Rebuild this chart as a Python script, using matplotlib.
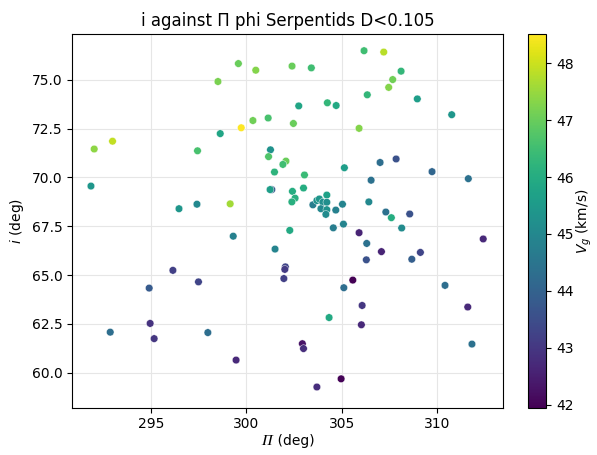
import matplotlib.pyplot as plt

# perihelion longitude, inclination and geocentric velocity per meteor
pi_deg = [292.03, 292.99, 297.44, 291.86, 296.47, 297.41, 299.58, 300.49, 302.39, 303.40,
          298.51, 302.74, 304.24, 304.70, 300.34, 301.14, 302.46, 299.73, 298.63, 305.90,
          301.26, 301.16, 302.07, 301.91, 301.47, 303.04, 305.13, 301.33, 301.24, 302.41,
          302.99, 302.55, 302.38, 303.48, 303.69, 303.82, 304.00, 304.21, 304.21, 303.90,
          304.21, 304.16, 304.68, 305.03, 305.08, 304.55, 306.16, 307.19, 308.10, 307.66,
          307.45, 306.33, 308.95, 310.75, 307.00, 307.84, 309.72, 311.62, 306.53, 306.41,
          307.30, 307.59, 308.55, 308.13, 299.31, 302.27, 301.50, 302.04, 302.01, 301.96,
          305.90, 305.57, 305.10, 304.33, 302.93, 302.99, 299.46, 304.96, 303.69, 306.30,
          307.07, 306.28, 308.66, 309.11, 312.40, 310.40, 311.59, 311.81, 306.06, 306.02,
          296.15, 294.91, 297.49, 294.96, 295.17, 292.87, 297.98, 299.15]
incl = [71.46, 71.86, 71.37, 69.56, 68.40, 68.63, 75.84, 75.50, 75.71, 75.62,
        74.92, 73.67, 73.83, 73.69, 72.92, 73.05, 72.77, 72.55, 72.25, 72.52,
        71.42, 71.07, 70.84, 70.67, 70.28, 70.13, 70.50, 69.38, 69.38, 69.29,
        69.46, 68.94, 68.75, 68.60, 68.82, 68.90, 68.73, 69.10, 68.73, 68.40,
        68.35, 68.11, 68.33, 68.63, 67.61, 67.42, 76.50, 76.43, 75.45, 75.02,
        74.62, 74.24, 74.03, 73.22, 70.77, 70.95, 70.30, 69.94, 69.86, 68.75,
        68.23, 67.94, 68.13, 67.41, 66.99, 67.29, 66.33, 65.42, 65.29, 64.82,
        67.17, 64.74, 64.35, 62.82, 61.48, 61.23, 60.64, 59.68, 59.26, 66.62,
        66.20, 65.78, 65.81, 66.16, 66.85, 64.47, 63.36, 61.46, 63.44, 62.45,
        65.24, 64.33, 64.65, 62.52, 61.74, 62.07, 62.05, 68.65]
vg = [47.4, 47.9, 46.6, 45.4, 45.4, 45.0, 47.0, 47.3, 47.0, 46.5,
      47.2, 45.8, 46.3, 45.9, 47.1, 46.6, 47.0, 48.51, 45.8, 47.3,
      45.3, 46.7, 47.0, 46.5, 46.2, 46.4, 45.6, 43.8, 45.6, 46.0,
      46.0, 46.1, 46.1, 44.7, 45.3, 45.4, 45.2, 45.7, 45.2, 45.0,
      45.3, 45.1, 44.8, 44.9, 44.9, 44.7, 46.5, 47.8, 46.3, 47.1,
      47.3, 46.3, 45.6, 45.4, 44.3, 43.6, 44.1, 44.4, 44.4, 45.0,
      44.4, 46.0, 43.6, 45.1, 44.8, 45.9, 44.9, 43.3, 43.1, 43.2,
      42.6, 41.95, 44.3, 45.9, 42.3, 42.8, 42.7, 42.0, 42.8, 44.4,
      42.6, 43.6, 43.9, 43.3, 42.7, 44.3, 42.7, 44.4, 43.0, 42.7,
      43.2, 43.8, 43.3, 42.9, 43.0, 44.3, 44.3, 47.6]

fig = plt.figure(figsize=(5.97, 4.55), dpi=100)
ax = fig.add_axes([0.121, 0.104, 0.722, 0.821])
cax = fig.add_axes([0.884, 0.104, 0.031, 0.821])

sc = ax.scatter(pi_deg, incl, c=vg, cmap='viridis', s=30, edgecolors='white', linewidths=0.3)
ax.set_xlim(290.88, 313.45)
ax.set_ylim(58.2, 77.35)
ax.grid(color='#e6e6e6')
ax.set_axisbelow(True)
ax.set_title("i against Π phi Serpentids D<0.105")
# italic capital pi, as in the reference
ax.set_xlabel("\U0001D6F1 (deg)", family=['DejaVu Sans', 'STIXGeneral'], labelpad=2)
ax.set_ylabel(r"$i$ (deg)")

cb = fig.colorbar(sc, cax=cax)
cb.set_label(r"$V_g$ (km/s)", labelpad=1)

plt.savefig("out.png")
